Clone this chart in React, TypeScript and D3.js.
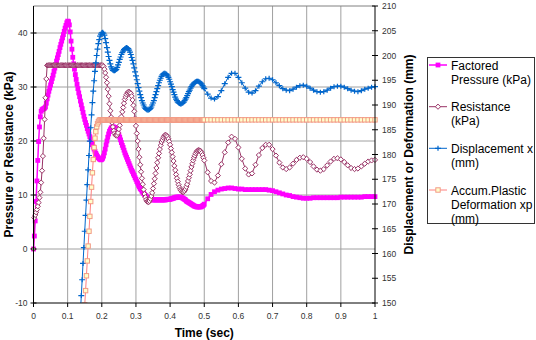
import React from "react";
import * as d3 from "d3";

// sample times: 2.5 ms steps up to 0.5 s, then 10 ms steps up to 1 s
const time: number[] = [
  ...d3.range(200).map((i) => +(i * 0.0025).toFixed(4)),
  ...d3.range(51).map((i) => +(0.5 + i * 0.01).toFixed(2)),
];

// Factored Pressure (kPa) - left axis
const pressure = [
  0, 2.4, 5.2, 8.8, 12.6, 16.4, 19.9, 22.6, 24.5, 25.5,
  25.8, 25.9, 26, 26.1, 26.3, 27, 27.8, 28.5, 29.2, 29.8,
  30.4, 31, 31.6, 32.2, 32.9, 33.5, 34.1, 34.8, 35.4, 36,
  36.6, 37.3, 37.9, 38.5, 39.1, 39.7, 40.3, 40.9, 41.4, 41.9,
  42.2, 42.1, 41.5, 40.2, 38.5, 37, 35.5, 34.3, 33.3, 32.3,
  31.4, 30.5, 29.7, 28.9, 28.2, 27.4, 26.7, 26, 25.3, 24.6,
  24, 23.4, 22.9, 22.3, 21.8, 21.3, 20.8, 20.3, 19.8, 19.3,
  18.9, 18.5, 18.1, 17.7, 17.4, 17.1, 16.9, 16.7, 16.6, 16.5,
  16.6, 16.8, 17.2, 17.8, 18.5, 19.3, 20, 20.7, 21.3, 21.8,
  22.1, 22.4, 22.5, 22.6, 22.6, 22.5, 22.4, 22.2, 21.9, 21.5,
  21.1, 20.7, 20.2, 19.7, 19.2, 18.8, 18.3, 17.8, 17.4, 17,
  16.6, 16.2, 15.8, 15.4, 15, 14.6, 14.3, 13.9, 13.6, 13.2,
  12.9, 12.5, 12.2, 11.8, 11.5, 11.2, 11, 10.7, 10.5, 10.3,
  10.1, 9.9, 9.8, 9.6, 9.5, 9.4, 9.3, 9.2, 9.2, 9.1,
  9.1, 9.1, 9.1, 9.1, 9.1, 9.1, 9.1, 9.1, 9.1, 9.1,
  9.1, 9.1, 9.1, 9.1, 9.1, 9.1, 9.2, 9.2, 9.2, 9.2,
  9.2, 9.3, 9.3, 9.4, 9.4, 9.5, 9.5, 9.6, 9.6, 9.6,
  9.6, 9.6, 9.6, 9.6, 9.5, 9.4, 9.3, 9.2, 9.1, 8.9,
  8.8, 8.7, 8.6, 8.5, 8.4, 8.3, 8.2, 8.1, 8, 7.9,
  7.9, 7.8, 7.8, 7.8, 7.8, 7.8, 7.8, 7.9, 8, 8.1,
  // 0.50 .. 1.00
  8.3, 9.3, 10.1, 10.6, 10.9, 11.1, 11.2, 11.3, 11.3, 11.2,
  11.1, 11.1, 11, 11, 11, 11, 11, 11, 11, 10.9,
  10.8, 10.6, 10.4, 10.2, 10, 9.9, 9.7, 9.6, 9.5, 9.4,
  9.4, 9.4, 9.5, 9.5, 9.5, 9.5, 9.5, 9.5, 9.5, 9.5,
  9.6, 9.6, 9.6, 9.6, 9.6, 9.6, 9.6, 9.7, 9.7, 9.7,
  9.7,
];

// Resistance (kPa) - left axis
const resistance = [
  0, 5.8, 6.3, 6.8, 7.3, 7.9, 8.6, 9.5, 10.5, 12.3,
  14.5, 17.2, 20.5, 24, 28, 31.5, 34, 34, 34, 34,
  34, 34, 34, 34, 34, 34, 34, 34, 34, 34,
  34, 34, 34, 34, 34, 34, 34, 34, 34, 34,
  34, 34, 34, 34, 34, 34, 34, 34, 34, 34,
  34, 34, 34, 34, 34, 34, 34, 34, 34, 34,
  34, 34, 34, 34, 34, 34, 34, 34, 34, 34,
  34, 34, 34, 34, 34, 34, 34, 34, 34, 34,
  34, 34, 33.8, 33.3, 32.6, 31.8, 30.8, 29.6, 28.3, 26.9,
  25.6, 24.4, 23.4, 22.6, 21.9, 21.4, 21.1, 21, 21.1, 21.5,
  22.2, 22.9, 23.7, 24.5, 25.4, 26.2, 27, 27.7, 28.2, 28.6,
  28.9, 29.1, 29.1, 29, 28.8, 28.3, 27.6, 26.6, 25.5, 24.2,
  22.8, 21.4, 20, 18.5, 17, 15.6, 14.3, 13.1, 12, 11,
  10.2, 9.6, 9.1, 8.8, 8.7, 8.7, 8.9, 9.3, 9.8, 10.4,
  11.2, 12.1, 13, 14, 15, 16, 16.9, 17.7, 18.5, 19.2,
  19.8, 20.2, 20.6, 20.9, 21.1, 21.1, 21, 20.8, 20.4, 19.9,
  19.3, 18.6, 17.9, 17.1, 16.3, 15.4, 14.6, 13.8, 13.1, 12.5,
  11.9, 11.4, 11, 10.8, 10.6, 10.5, 10.6, 10.8, 11.1, 11.5,
  12, 12.6, 13.2, 13.8, 14.5, 15.2, 15.8, 16.4, 16.9, 17.3,
  17.7, 18, 18.2, 18.3, 18.3, 18.2, 18.1, 17.8, 17.4, 16.9,
  // 0.50 .. 1.00
  16.4, 14.2, 12.6, 12.3, 13.6, 15.7, 17.9, 19.7, 20.8, 20.4,
  18.8, 16.7, 14.9, 13.8, 14, 15.6, 17.4, 18.7, 19.3, 19.3,
  18.5, 17.3, 16, 15.1, 14.8, 15.1, 15.8, 16.5, 16.9, 17,
  16.7, 16.1, 15.3, 14.7, 14.5, 14.8, 15.5, 16.2, 16.7, 16.8,
  16.6, 16.1, 15.5, 15, 14.8, 14.9, 15.3, 15.8, 16.2, 16.4,
  16.5,
];

// Displacement x (mm) - right axis
const displacement = [
  0, 0.1, 0.3, 0.6, 1, 1.6, 2.2, 3, 3.8, 4.8,
  5.9, 7.1, 8.5, 11.7, 15, 18.2, 21.5, 24.7, 28, 31.2,
  34.5, 37.7, 41, 44.2, 47.5, 50.7, 54, 57.2, 60.5, 63.7,
  67, 70.2, 73.5, 76.7, 80, 83.2, 86.5, 89.7, 93, 96.2,
  99.5, 102.7, 106, 109.2, 112.5, 115.7, 119, 122.2, 125.5, 128.7,
  132, 135.2, 138.5, 141.7, 145, 148.2, 151.5, 154.7, 158, 161.2,
  164.5, 167.7, 170.8, 173.9, 176.9, 179.8, 182.7, 185.4, 188, 190.5,
  192.8, 194.9, 196.8, 198.5, 200, 201.3, 202.4, 203.2, 203.9, 204.3,
  204.6, 204.7, 204.5, 204.1, 203.4, 202.6, 201.6, 200.7, 199.8, 199,
  198.3, 197.7, 197.3, 197, 196.9, 196.9, 197, 197.2, 197.6, 198.1,
  198.6, 199.2, 199.7, 200.2, 200.6, 200.9, 201.2, 201.4, 201.5, 201.6,
  201.5, 201.4, 201.1, 200.7, 200.2, 199.6, 199, 198.3, 197.5, 196.7,
  195.9, 195.1, 194.3, 193.5, 192.8, 192.1, 191.5, 190.9, 190.4, 190,
  189.6, 189.3, 189.1, 189, 189, 189, 189.1, 189.3, 189.6, 190,
  190.4, 190.9, 191.5, 192.1, 192.7, 193.3, 193.9, 194.5, 195, 195.4,
  195.8, 196.1, 196.3, 196.4, 196.4, 196.3, 196.2, 195.9, 195.6, 195.2,
  194.7, 194.2, 193.7, 193.1, 192.6, 192.1, 191.6, 191.2, 190.9, 190.6,
  190.4, 190.3, 190.2, 190.2, 190.3, 190.4, 190.6, 190.9, 191.2, 191.5,
  191.9, 192.3, 192.7, 193, 193.4, 193.7, 194, 194.2, 194.4, 194.6,
  194.7, 194.8, 194.8, 194.8, 194.7, 194.6, 194.4, 194.2, 193.9, 193.6,
  // 0.50 .. 1.00
  193.3, 192.2, 191.4, 191.2, 191.7, 192.9, 194.3, 195.6, 196.4, 196.4,
  195.6, 194.5, 193.4, 192.6, 192.4, 192.9, 193.8, 194.7, 195.3, 195.4,
  195.1, 194.5, 193.9, 193.3, 193, 192.9, 193.2, 193.6, 193.9, 194,
  193.8, 193.4, 193, 192.7, 192.6, 192.7, 193, 193.4, 193.7, 193.8,
  193.8, 193.6, 193.3, 193, 192.8, 192.7, 192.9, 193.2, 193.4, 193.6,
  193.7,
];

// Accum. Plastic Deformation xp (mm) - right axis
const plastic = [
  0, 0, 0, 0, 0, 0, 0, 0, 0, 0,
  0, 0, 0, 0, 0, 0, 0, 3, 6.5, 10,
  13.5, 17, 20.5, 24, 27.5, 31, 34.5, 38, 41.5, 45,
  48.5, 52, 55.5, 59, 62.5, 66, 69.5, 73, 76.5, 80,
  83.5, 87, 90.5, 94, 97.5, 101, 104.5, 108, 111.5, 115,
  118.5, 122, 125.5, 128.8, 132, 135, 138, 140.9, 143.8, 146.7,
  149.6, 152.5, 155.5, 158.5, 161.5, 164.5, 167.5, 170.5, 173.4, 176.3,
  179, 181.4, 183.3, 184.6, 185.6, 186.2, 186.6, 186.9, 187, 187,
  187, 187, 187, 187, 187, 187, 187, 187, 187, 187,
  187, 187, 187, 187, 187, 187, 187, 187, 187, 187,
  187, 187, 187, 187, 187, 187, 187, 187, 187, 187,
  187, 187, 187, 187, 187, 187, 187, 187, 187, 187,
  187, 187, 187, 187, 187, 187, 187, 187, 187, 187,
  187, 187, 187, 187, 187, 187, 187, 187, 187, 187,
  187, 187, 187, 187, 187, 187, 187, 187, 187, 187,
  187, 187, 187, 187, 187, 187, 187, 187, 187, 187,
  187, 187, 187, 187, 187, 187, 187, 187, 187, 187,
  187, 187, 187, 187, 187, 187, 187, 187, 187, 187,
  187, 187, 187, 187, 187, 187, 187, 187, 187, 187,
  187, 187, 187, 187, 187, 187, 187, 187, 187, 187,
  // 0.50 .. 1.00
  187, 187, 187, 187, 187, 187, 187, 187, 187, 187,
  187, 187, 187, 187, 187, 187, 187, 187, 187, 187,
  187, 187, 187, 187, 187, 187, 187, 187, 187, 187,
  187, 187, 187, 187, 187, 187, 187, 187, 187, 187,
  187, 187, 187, 187, 187, 187, 187, 187, 187, 187,
  187,
];

const xTicks = [0, 0.1, 0.2, 0.3, 0.4, 0.5, 0.6, 0.7, 0.8, 0.9, 1];
const leftTicks = [-10, 0, 10, 20, 30, 40];
const rightTicks = [150, 155, 160, 165, 170, 175, 180, 185, 190, 195, 200, 205, 210];

const legendLabels = [
  ["Factored", "Pressure (kPa)"],
  ["Resistance", "(kPa)"],
  ["Displacement x", "(mm)"],
  ["Accum.Plastic", "Deformation xp", "(mm)"],
];

const FONT = "'Liberation Sans', Arial, sans-serif";

function Marker({ kind, cx, cy }: { kind: string; cx: number; cy: number }) {
  if (kind === "square")
    return <rect x={cx - 2.4} y={cy - 2.4} width={4.8} height={4.8} fill="#FF00FF" />;
  if (kind === "diamond")
    return (
      <path
        d={`M${cx},${cy - 2.6}L${cx + 2.6},${cy}L${cx},${cy + 2.6}L${cx - 2.6},${cy}Z`}
        fill="#fff"
        stroke="#993366"
        strokeWidth={1}
      />
    );
  if (kind === "plus")
    return (
      <path
        d={`M${cx - 3},${cy}H${cx + 3}M${cx},${cy - 2.5}V${cy + 2.5}`}
        stroke="#0066CC"
        strokeWidth={1.2}
      />
    );
  return (
    <rect x={cx - 2.2} y={cy - 2.2} width={4.4} height={4.4} fill="#FFFFCC" stroke="#F29A85" strokeWidth={1} />
  );
}

export default function App() {
  const left = 33.5, right = 375, top = 6, bottom = 303;

  const x = d3.scaleLinear().domain([0, 1]).range([left, right]);
  const yL = d3.scaleLinear().domain([-10, 45]).range([bottom, top]);
  const yR = d3.scaleLinear().domain([150, 210]).range([bottom, top]);

  const series = [
    { values: pressure, y: yL, color: "#FF00FF", width: 1.5, marker: "square" },
    { values: resistance, y: yL, color: "#993366", width: 1, marker: "diamond" },
    { values: displacement, y: yR, color: "#0066CC", width: 1, marker: "plus" },
    { values: plastic, y: yR, color: "#FF8080", width: 1, marker: "box" },
  ];

  const legendY = [65, 106.7, 148.3, 190];

  return (
    <svg
      width={536}
      height={340}
      style={{ position: "absolute", left: 0, top: 0, background: "#fff" }}
      fontFamily={FONT}
    >
      <defs>
        <clipPath id="plotClip">
          <rect x={28} y={2} width={353} height={bottom - 2} />
        </clipPath>
      </defs>

      {/* gridlines */}
      <g stroke="#A0A0A0" strokeWidth={1}>
        {leftTicks.slice(1).map((t) => (
          <line key={"h" + t} x1={left} x2={right} y1={yL(t)} y2={yL(t)} />
        ))}
        {xTicks.slice(1, -1).map((t) => (
          <line key={"v" + t} x1={x(t)} x2={x(t)} y1={top} y2={bottom} />
        ))}
      </g>
      <line x1={left} x2={right} y1={top} y2={top} stroke="#808080" />

      {/* series */}
      <g clipPath="url(#plotClip)">
        {series.map((s, si) => {
          const line = d3
            .line<number>()
            .x((_, i) => x(time[i]))
            .y((d) => s.y(d));
          return (
            <g key={si}>
              <path d={line(s.values) || ""} fill="none" stroke={s.color} strokeWidth={s.width} />
              {s.values.map((v, i) => (
                <Marker key={i} kind={s.marker} cx={x(time[i])} cy={s.y(v)} />
              ))}
            </g>
          );
        })}
      </g>

      {/* axes */}
      <g stroke="#000" strokeWidth={1}>
        <line x1={left} x2={left} y1={top} y2={bottom} />
        <line x1={left} x2={right} y1={bottom} y2={bottom} />
        <line x1={right} x2={right} y1={top} y2={bottom} />
        {leftTicks.map((t) => (
          <line key={"lt" + t} x1={left - 3} x2={left + 3} y1={yL(t)} y2={yL(t)} />
        ))}
        {rightTicks.map((t) => (
          <line key={"rt" + t} x1={right - 3} x2={right + 3} y1={yR(t)} y2={yR(t)} />
        ))}
        {xTicks.map((t) => (
          <line key={"xt" + t} x1={x(t)} x2={x(t)} y1={bottom} y2={bottom + 4} />
        ))}
      </g>

      <g fontSize={8.5} fill="#333">
        {leftTicks.map((t) => (
          <text key={"ll" + t} x={left - 6} y={yL(t) + 3} textAnchor="end">
            {t}
          </text>
        ))}
        {rightTicks.map((t) => (
          <text key={"rl" + t} x={right + 7} y={yR(t) + 3}>
            {t}
          </text>
        ))}
        {xTicks.map((t) => (
          <text key={"xl" + t} x={x(t)} y={bottom + 16} textAnchor="middle">
            {t}
          </text>
        ))}
      </g>

      {/* axis titles */}
      <g fontSize={12} fontWeight="bold" fill="#000">
        <text x={(left + right) / 2} y={337} textAnchor="middle">
          Time (sec)
        </text>
        <text transform={`translate(13,${(top + bottom) / 2}) rotate(-90)`} textAnchor="middle">
          Pressure or Resistance (kPa)
        </text>
        <text transform={`translate(413,${(top + bottom) / 2}) rotate(-90)`} textAnchor="middle">
          Displacement or Deformation (mm)
        </text>
      </g>

      {/* legend */}
      <g>
        <rect x={427.5} y={57.5} width={107} height={166} fill="#fff" stroke="#333" strokeWidth={1} />
        {series.map((s, i) => (
          <g key={"lg" + i}>
            <line x1={429} x2={447} y1={legendY[i]} y2={legendY[i]} stroke={s.color} strokeWidth={s.width} />
            <Marker kind={s.marker} cx={438} cy={legendY[i]} />
            {legendLabels[i].map((l, j) => (
              <text key={j} x={451} y={legendY[i] + 4.5 + j * 14} fontSize={12} fill="#000">
                {l}
              </text>
            ))}
          </g>
        ))}
      </g>
    </svg>
  );
}
